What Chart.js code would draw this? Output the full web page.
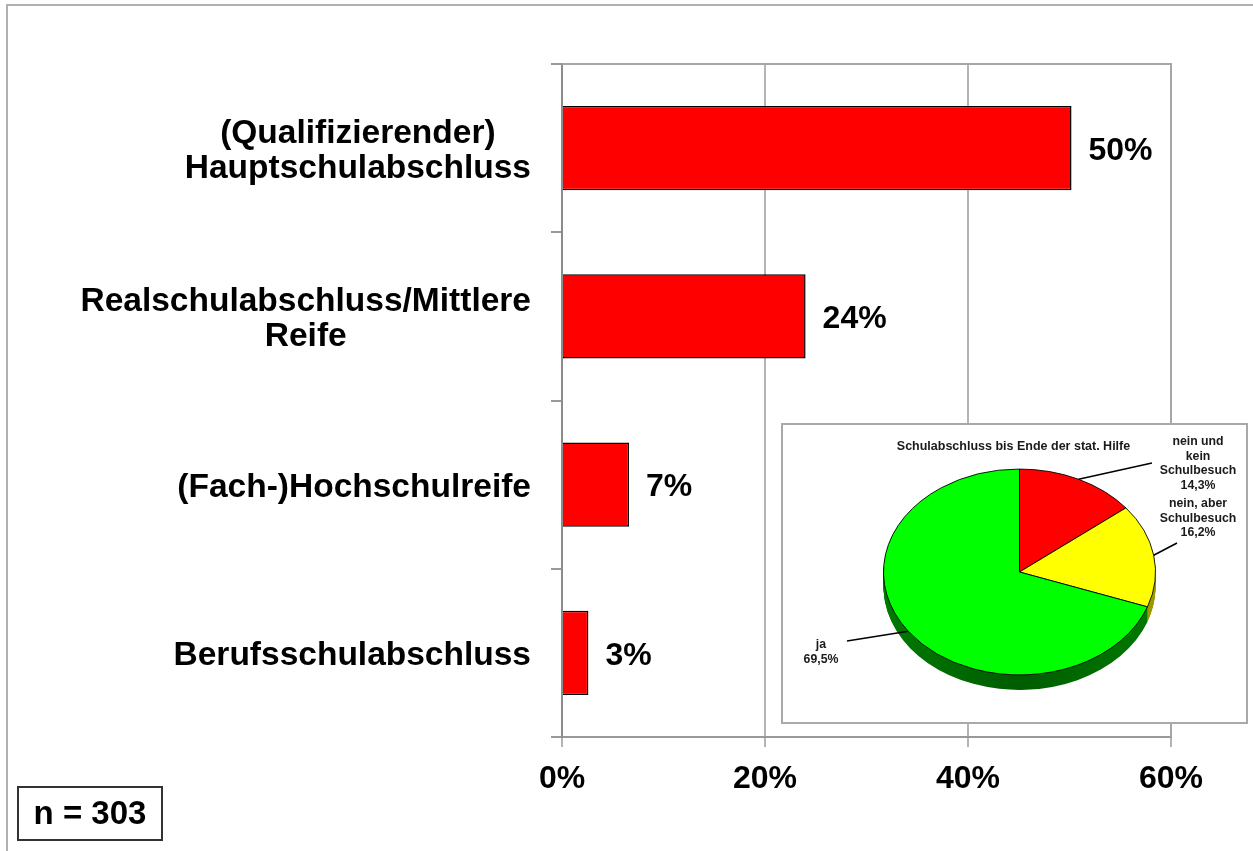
<!DOCTYPE html>
<html><head><meta charset="utf-8">
<script src="https://cdn.jsdelivr.net/npm/chart.js@4/dist/chart.umd.min.js"></script>
<style>
html,body{margin:0;padding:0;background:#fff;}
#wrap{position:relative;width:1253px;height:851px;overflow:hidden;background:#fff;}
#main{position:absolute;left:0;top:0;}
#inset{position:absolute;left:781px;top:423px;width:463px;height:297px;border:2px solid #a9a9a9;background:#fff;}
#inset canvas{display:block;}
</style></head><body>
<div id="wrap">
<canvas id="main" width="1253" height="851"></canvas>
<div id="inset"><canvas id="pie" width="463" height="297"></canvas></div>
</div>
<script>
// ---- data: main bar chart ----
const categories = [
  ['(Qualifizierender)', 'Hauptschulabschluss'],
  ['Realschulabschluss/Mittlere', 'Reife'],
  ['(Fach-)Hochschulreife'],
  ['Berufsschulabschluss']
];
const shares = [50.2, 24.0, 6.6, 2.6];
const xTicks = [0, 20, 40, 60];
const sampleLabel = 'n = 303';

// ---- data: inset pie ----
const pieTitle = 'Schulabschluss bis Ende der stat. Hilfe';
const pieCategories = [
  ['nein und', 'kein', 'Schulbesuch'],
  ['nein, aber', 'Schulbesuch'],
  ['ja']
];
const pieValues = [14.3, 16.2, 69.5];
const pieColors = ['#ff0000', '#ffff00', '#00ff00'];
const pieSideColors = ['#990000', '#999900', '#007a00'];

const FONT = '"Liberation Sans", Arial, Helvetica, sans-serif';
Chart.defaults.font.family = FONT;

const decor = {
  id: 'decor',
  beforeDraw(chart) {
    const ctx = chart.ctx;
    ctx.save();
    ctx.fillStyle = '#fff';
    ctx.fillRect(0, 0, chart.width, chart.height);
    ctx.strokeStyle = '#b0b0b0';
    ctx.lineWidth = 2;
    ctx.beginPath();
    ctx.moveTo(7, chart.height);
    ctx.lineTo(7, 5);
    ctx.lineTo(chart.width, 5);
    ctx.stroke();
    ctx.restore();
  },
  afterDraw(chart) {
    const ctx = chart.ctx;
    const ca = chart.chartArea;
    const xs = chart.scales.x, ys = chart.scales.y;
    ctx.save();
    // plot frame top & right
    ctx.strokeStyle = '#a6a6a6';
    ctx.lineWidth = 2;
    ctx.beginPath();
    ctx.moveTo(ca.left, ca.top);
    ctx.lineTo(ca.right, ca.top);
    ctx.lineTo(ca.right, ca.bottom);
    ctx.stroke();
    // category labels: block right-aligned, lines centered
    ctx.fillStyle = '#000';
    ctx.font = 'bold 33.5px ' + FONT;
    ctx.textBaseline = 'middle';
    ctx.textAlign = 'center';
    const rightEdge = ys.right - 31;
    const lh = 35;
    categories.forEach((lines, i) => {
      const cy = ys.getPixelForValue(i);
      const w = Math.max(...lines.map(l => ctx.measureText(l).width));
      const cx = rightEdge - w / 2;
      lines.forEach((l, j) => {
        ctx.fillText(l, cx, cy + (j - (lines.length - 1) / 2) * lh + 3);
      });
    });
    // value labels
    ctx.textAlign = 'left';
    ctx.font = 'bold 32px ' + FONT;
    const meta = chart.getDatasetMeta(0);
    meta.data.forEach((bar, i) => {
      ctx.fillText(Math.round(shares[i]) + '%', xs.getPixelForValue(shares[i]) + 17, bar.y + 3);
    });
    // n box
    ctx.strokeStyle = '#333';
    ctx.lineWidth = 2;
    ctx.strokeRect(18, 787, 144, 53);
    ctx.textAlign = 'center';
    ctx.font = 'bold 33px ' + FONT;
    ctx.fillText(sampleLabel, 90, 815);
    ctx.restore();
  }
};

new Chart(document.getElementById('main'), {
  type: 'bar',
  data: {
    labels: categories,
    datasets: [{
      data: shares,
      backgroundColor: '#ff0000',
      borderColor: '#000',
      borderWidth: 1.5,
      barPercentage: 0.5,
      categoryPercentage: 1
    }]
  },
  options: {
    indexAxis: 'y',
    responsive: false,
    animation: false,
    devicePixelRatio: 1,
    events: [],
    layout: { padding: { top: 64, right: 82, left: 0, bottom: 0 } },
    plugins: { legend: { display: false }, tooltip: { enabled: false } },
    scales: {
      x: {
        min: xTicks[0], max: xTicks[xTicks.length - 1],
        afterBuildTicks(s) { s.ticks = xTicks.map(v => ({ value: v })); },
        ticks: { callback: v => v + '%', font: { size: 32, weight: 'bold' }, color: '#000', padding: 13, maxRotation: 0 },
        grid: { color: '#b4b4b4', lineWidth: 2, tickLength: 10 },
        border: { color: '#999', width: 2 },
        afterFit(s) { s.height = 114; }
      },
      y: {
        ticks: { display: false },
        grid: { drawOnChartArea: false, offset: true, tickLength: 11, color: '#999', lineWidth: 2 },
        border: { color: '#8c8c8c', width: 2 },
        afterFit(s) { s.width = 562; }
      }
    }
  },
  plugins: [decor]
});

// ---- inset pie (tilted, with depth) ----
const TILT = 0.757;
const DEPTH = 15;
const pie3d = {
  id: 'pie3d',
  beforeDatasetsDraw(chart) {
    const ctx = chart.ctx;
    const meta = chart.getDatasetMeta(0);
    const a0 = meta.data[0];
    const cx = a0.x, cy = a0.y, r = a0.outerRadius;
    ctx.save();
    ctx.translate(0, cy);
    ctx.scale(1, TILT);
    ctx.translate(0, -cy);
    const depth = DEPTH / TILT;
    meta.data.forEach((arc, i) => {
      const g = ctx.createLinearGradient(cx - r, 0, cx + r, 0);
      g.addColorStop(0, pieSideColors[i]);
      g.addColorStop(0.5, i === 2 ? '#005c00' : pieSideColors[i]);
      g.addColorStop(1, pieSideColors[i]);
      ctx.fillStyle = g;
      for (let d = depth; d > 0; d -= 1) {
        ctx.beginPath();
        ctx.moveTo(arc.x, arc.y + d);
        ctx.arc(arc.x, arc.y + d, arc.outerRadius, arc.startAngle, arc.endAngle);
        ctx.closePath();
        ctx.fill();
      }
    });
  },
  afterDatasetsDraw(chart) {
    chart.ctx.restore();
  },
  afterDraw(chart) {
    const ctx = chart.ctx;
    const meta = chart.getDatasetMeta(0);
    ctx.save();
    ctx.fillStyle = '#000';
    ctx.strokeStyle = '#000';
    ctx.lineWidth = 1.5;
    ctx.textAlign = 'center';
    ctx.textBaseline = 'middle';
    ctx.font = 'bold 12.5px ' + FONT;
    ctx.fillStyle = '#1a1a1a';
    ctx.fillText(pieTitle, 230.5, 22);
    // label layout (canvas coords)
    const labelPos = [
      { x: 415, y: 17, lx: 369, ly: 38 },
      { x: 415, y: 79, lx: 394, ly: 118 },
      { x: 38, y: 220, lx: 64, ly: 216 }
    ];
    ctx.font = 'bold 12.3px ' + FONT;
    meta.data.forEach((arc, i) => {
      const mid = (arc.startAngle + arc.endAngle) / 2;
      const px = arc.x + arc.outerRadius * Math.cos(mid);
      const py = arc.y + arc.outerRadius * TILT * Math.sin(mid);
      const p = labelPos[i];
      ctx.beginPath();
      ctx.moveTo(px, py);
      ctx.lineTo(p.lx, p.ly);
      ctx.stroke();
      const lines = pieCategories[i].concat([pieValues[i].toFixed(1).replace('.', ',') + '%']);
      lines.forEach((l, j) => ctx.fillText(l, p.x, p.y + j * 14.5));
    });
    ctx.restore();
  }
};

new Chart(document.getElementById('pie'), {
  type: 'pie',
  data: {
    labels: pieCategories,
    datasets: [{
      data: pieValues,
      backgroundColor: pieColors,
      borderColor: '#000',
      borderWidth: 1,
      hoverOffset: 0,
      offset: 0,
      clip: false
    }]
  },
  options: {
    responsive: false,
    animation: false,
    devicePixelRatio: 1,
    events: [],
    layout: { padding: { left: 100, right: 90, top: 10.5, bottom: 13.5 } },
    plugins: { legend: { display: false }, tooltip: { enabled: false } }
  },
  plugins: [pie3d]
});
</script>
</body></html>
